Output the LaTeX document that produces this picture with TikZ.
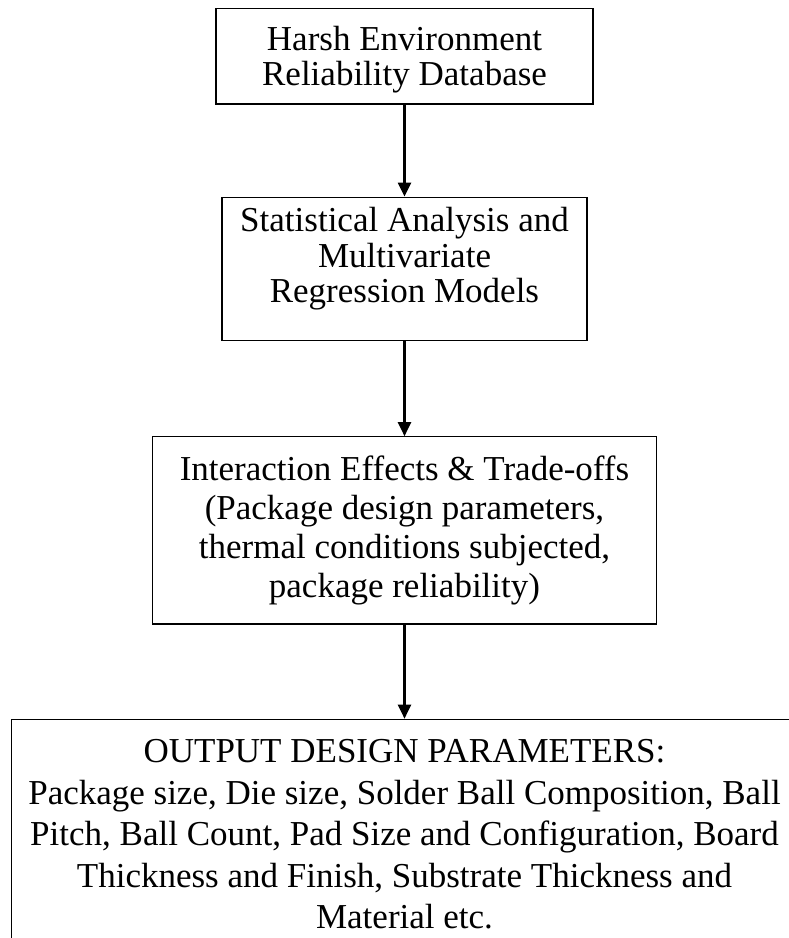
\documentclass[tikz,border=0pt]{standalone}
\usepackage{fontspec}
\setmainfont{Liberation Serif}
\usetikzlibrary{positioning,arrows.meta}

\begin{document}
\begin{tikzpicture}[x=1pt, y=1pt, node distance=92pt]
        \tikzset{every node/.style={rectangle, draw, line width=1.3pt, align=center, inner xsep=0pt}}
        \tikzset{flow/.style={-{Triangle[length=14pt, width=13pt]}, line width=2.3pt}}
        \useasboundingbox (0,0) rectangle (789,-938);
        \node[anchor=north, minimum width=377pt, inner ysep=18pt, text depth=0pt,
              font=\fontsize{35pt}{35pt}\selectfont] (db) at (404.5,-8)
            {Harsh Environment\\Reliability Database};
        \node[below=of db, minimum width=365pt, inner ysep=10pt, text depth=28pt,
              font=\fontsize{35pt}{35.5pt}\selectfont] (stats)
            {Statistical Analysis and\\Multivariate\\Regression Models};
        \node[below=95pt of stats, minimum width=504pt, inner ysep=19pt,
              font=\fontsize{35pt}{39pt}\selectfont] (trade)
            {Interaction Effects \& Trade-offs\\(Package design parameters,\\thermal conditions subjected,\\package reliability)};
        \node[below=94pt of trade, minimum width=786pt, inner ysep=20pt,
              font=\fontsize{35pt}{41.5pt}\selectfont] (output)
            {OUTPUT DESIGN PARAMETERS:\\Package size, Die size, Solder Ball Composition, Ball\\Pitch, Ball Count, Pad Size and Configuration, Board\\Thickness and Finish, Substrate Thickness and\\Material etc.};
        \draw[flow] (db) -- (stats);
        \draw[flow] (stats) -- (trade);
        \draw[flow] (trade) -- (output);
    \end{tikzpicture}
\end{document}
